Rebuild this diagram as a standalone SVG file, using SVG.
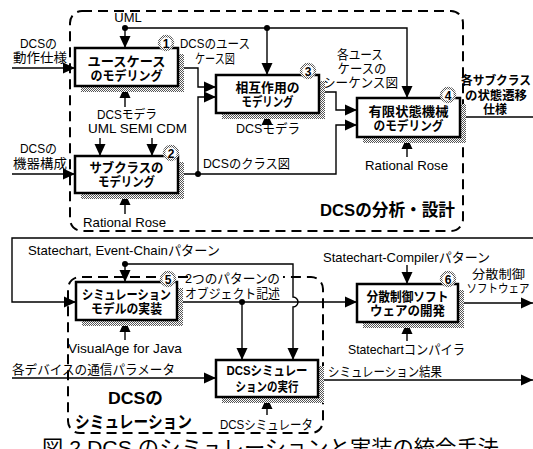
<svg xmlns="http://www.w3.org/2000/svg" width="533" height="449" viewBox="0 0 533 449">
<defs>
<pattern id="ht" width="2" height="2" patternUnits="userSpaceOnUse"><rect width="2" height="2" fill="#fff"/><rect width="1" height="1" fill="#555"/><rect x="1" y="1" width="1" height="1" fill="#555"/></pattern>
<marker id="ah" viewBox="0 0 12 12" refX="12" refY="6" markerWidth="12" markerHeight="12" markerUnits="userSpaceOnUse" orient="auto"><path d="M0,0.5 L12,6 L0,11.5 z" fill="#000"/></marker>
</defs>
<style>
text{font-family:"Liberation Sans","Noto Sans CJK JP",sans-serif;fill:#000}
.t{font-size:13px;text-anchor:middle}
.s{font-size:12px;text-anchor:middle}
.bl{font-size:12.5px;font-weight:bold;text-anchor:middle}
.nl{font-size:13px;font-weight:bold;text-anchor:middle}
.big{font-size:17px;font-weight:bold;text-anchor:middle}
.cap{font-size:21px;text-anchor:middle}
.box{fill:#fff;stroke:#000;stroke-width:2.5}
.sh{fill:url(#ht)}
.ln{fill:none;stroke:#000;stroke-width:1.4}
.ar{marker-end:url(#ah)}
.dash{fill:none;stroke:#000;stroke-width:2;stroke-dasharray:10 6}
.num circle{fill:#fff;stroke:url(#ht);stroke-width:2.5}
.num text{font-size:12px;font-weight:bold;text-anchor:middle}
.dot{fill:#000}
</style>
<rect width="533" height="449" fill="#fff"/>

<g id="regions">
<rect class="dash" x="70" y="11" width="393" height="220" rx="12"/>
<path class="dash" d="M188,277 H80 A12,12 0 0 0 68,289 V421 A12,12 0 0 0 80,433 H311 A12,12 0 0 0 323,421 V289 A12,12 0 0 0 311,277 H283"/>
</g>

<g id="connectors">
<path class="ln ar" d="M12,68 H75"/>
<path class="ln ar" d="M12,174 H75"/>
<path class="ln ar" d="M125,28 V48"/>
<path class="ln ar" d="M125,28 H407 V98"/>
<path class="ln ar" d="M267,28 V75"/>
<circle class="dot" cx="125" cy="28" r="3"/>
<circle class="dot" cx="267" cy="28" r="3"/>
<path class="ln ar" d="M125,107 V86"/>
<path class="ln ar" d="M100,138 V156"/>
<path class="ln ar" d="M152,138 V156"/>
<path class="ln ar" d="M125,214 V193"/>
<path class="ln ar" d="M178,68 H198 V87 H216"/>
<path class="ln ar" d="M178,174 H336 V125 H357"/>
<path class="ln ar" d="M198,174 V97 H216"/>
<circle class="dot" cx="198" cy="174" r="3"/>
<path class="ln ar" d="M319,92 H336 V110 H357"/>
<path class="ln ar" d="M267,124 V113"/>
<path class="ln" d="M460,117 H533"/>
<path class="ln ar" d="M407,157 V137"/>
<path class="ln ar" d="M533,238 H12 V302 H76"/>
<path class="ln ar" d="M125,264 V282"/>
<path class="ln ar" d="M125,264 H293 V297 A5,5 0 0 1 293,307 V360"/>
<circle class="dot" cx="125" cy="264" r="3"/>
<path class="ln ar" d="M177,302 H357"/>
<path class="ln ar" d="M242,302 V360"/>
<circle class="dot" cx="242" cy="302" r="3"/>
<path class="ln ar" d="M125,340 V320"/>
<path class="ln ar" d="M12,378 H216"/>
<path class="ln ar" d="M267,415 V397"/>
<path class="ln ar" d="M318,380 H533"/>
<path class="ln ar" d="M407,265 V284"/>
<path class="ln ar" d="M407,341 V322"/>
<path class="ln ar" d="M458,303 H533"/>
</g>

<g id="labels">
<text class="t" x="128" y="21.5">UML</text>
<text class="t" x="38.5" y="47.5" textLength="37" lengthAdjust="spacingAndGlyphs">DCSの</text>
<text class="t" x="40" y="61.5" textLength="54" lengthAdjust="spacingAndGlyphs">動作仕様</text>
<text class="t" x="38.5" y="152.5" textLength="37" lengthAdjust="spacingAndGlyphs">DCSの</text>
<text class="t" x="40" y="167.5" textLength="54" lengthAdjust="spacingAndGlyphs">機器構成</text>
<text class="t" x="215" y="47.5" textLength="70" lengthAdjust="spacingAndGlyphs">DCSのユース</text>
<text class="t" x="215" y="62.5" textLength="40" lengthAdjust="spacingAndGlyphs">ケース図</text>
<text class="s" x="127" y="119" textLength="60" lengthAdjust="spacingAndGlyphs">DCSモデラ</text>
<text class="t" x="137.5" y="133" textLength="99" lengthAdjust="spacingAndGlyphs">UML SEMI CDM</text>
<text class="t" x="124.5" y="226.5" textLength="83" lengthAdjust="spacingAndGlyphs">Rational Rose</text>
<text class="t" x="268" y="132.5" textLength="64" lengthAdjust="spacingAndGlyphs">DCSモデラ</text>
<text class="t" x="246.5" y="167.5" textLength="87" lengthAdjust="spacingAndGlyphs">DCSのクラス図</text>
<text class="t" x="360" y="59" textLength="46" lengthAdjust="spacingAndGlyphs">各ユース</text>
<text class="t" x="362" y="72.5" textLength="49" lengthAdjust="spacingAndGlyphs">ケースの</text>
<text class="t" x="360.5" y="86.5" textLength="75" lengthAdjust="spacingAndGlyphs">シーケンス図</text>
<text class="bl" x="496" y="84.5" textLength="70" lengthAdjust="spacingAndGlyphs">各サブクラス</text>
<text class="bl" x="496" y="99.5" textLength="62" lengthAdjust="spacingAndGlyphs">の状態遷移</text>
<text class="bl" x="495" y="113.5" textLength="24" lengthAdjust="spacingAndGlyphs">仕様</text>
<text class="t" x="406.5" y="169.5" textLength="83" lengthAdjust="spacingAndGlyphs">Rational Rose</text>
<text class="big" x="387.5" y="216" textLength="135" lengthAdjust="spacingAndGlyphs">DCSの分析・設計</text>
<text class="t" x="124" y="254.5" textLength="192" lengthAdjust="spacingAndGlyphs">Statechart, Event-Chainパターン</text>
<text class="t" x="232.5" y="282.5" textLength="95" lengthAdjust="spacingAndGlyphs">2つのパターンの</text>
<text class="t" x="232.5" y="297.5" textLength="95" lengthAdjust="spacingAndGlyphs">オブジェクト記述</text>
<text class="t" x="125" y="352.5" textLength="114" lengthAdjust="spacingAndGlyphs">VisualAge for Java</text>
<text class="t" x="93.5" y="373.5" textLength="163" lengthAdjust="spacingAndGlyphs">各デバイスの通信パラメータ</text>
<text class="big" x="135.5" y="404" textLength="55" lengthAdjust="spacingAndGlyphs">DCSの</text>
<text class="big" x="133.5" y="428" textLength="117" lengthAdjust="spacingAndGlyphs">シミュレーション</text>
<text class="t" x="266.5" y="428.5" textLength="93" lengthAdjust="spacingAndGlyphs">DCSシミュレータ</text>
<text class="t" x="385" y="375.5" textLength="114" lengthAdjust="spacingAndGlyphs">シミュレーション結果</text>
<text class="t" x="406.5" y="261.5" textLength="167" lengthAdjust="spacingAndGlyphs">Statechart-Compilerパターン</text>
<text class="t" x="406.5" y="353.5" textLength="117" lengthAdjust="spacingAndGlyphs">Statechartコンパイラ</text>
<text class="s" x="498.5" y="279" textLength="53" lengthAdjust="spacingAndGlyphs">分散制御</text>
<text class="s" x="498" y="292.5" textLength="63" lengthAdjust="spacingAndGlyphs">ソフトウェア</text>
<text class="cap" x="270.5" y="455" textLength="457" lengthAdjust="spacingAndGlyphs">図 2 DCS のシミュレーションと実装の統合手法</text>
</g>

<g id="n1">
<rect class="sh" x="81" y="54" width="103" height="38"/>
<rect class="box" x="75" y="48" width="103" height="38"/>
<text class="nl" x="126.5" y="65.5" textLength="78" lengthAdjust="spacingAndGlyphs">ユースケース</text>
<text class="nl" x="126.5" y="79.5" textLength="72" lengthAdjust="spacingAndGlyphs">のモデリング</text>
<g class="num"><circle cx="166" cy="43" r="7"/><text x="166" y="47.5">1</text></g>
</g>

<g id="n2">
<rect class="sh" x="81" y="162" width="103" height="37"/>
<rect class="box" x="75" y="156" width="103" height="37"/>
<text class="nl" x="126.5" y="171.5" textLength="74" lengthAdjust="spacingAndGlyphs">サブクラスの</text>
<text class="nl" x="126.5" y="186" textLength="57" lengthAdjust="spacingAndGlyphs">モデリング</text>
<g class="num"><circle cx="171" cy="153" r="7"/><text x="171" y="157.5">2</text></g>
</g>

<g id="n3">
<rect class="sh" x="222" y="81" width="103" height="38"/>
<rect class="box" x="216" y="75" width="103" height="38"/>
<text class="nl" x="267.5" y="91.5" textLength="64" lengthAdjust="spacingAndGlyphs">相互作用の</text>
<text class="nl" x="267.5" y="105.5" textLength="52" lengthAdjust="spacingAndGlyphs">モデリング</text>
<g class="num"><circle cx="308" cy="71" r="7"/><text x="308" y="75.5">3</text></g>
</g>

<g id="n4">
<rect class="sh" x="363" y="104" width="103" height="39"/>
<rect class="box" x="357" y="98" width="103" height="39"/>
<text class="nl" x="408.5" y="115.5" textLength="80" lengthAdjust="spacingAndGlyphs">有限状態機械</text>
<text class="nl" x="408.5" y="129.5" textLength="70" lengthAdjust="spacingAndGlyphs">のモデリング</text>
<g class="num"><circle cx="448" cy="95" r="7"/><text x="448" y="99.5">4</text></g>
</g>

<g id="n5">
<rect class="sh" x="82" y="288" width="101" height="38"/>
<rect class="box" x="76" y="282" width="101" height="38"/>
<text class="nl" x="126.5" y="298.5" textLength="89" lengthAdjust="spacingAndGlyphs">シミュレーション</text>
<text class="nl" x="126.5" y="312.5" textLength="71" lengthAdjust="spacingAndGlyphs">モデルの実装</text>
<g class="num"><circle cx="168" cy="279" r="7"/><text x="168" y="283.5">5</text></g>
</g>

<g id="n6">
<rect class="sh" x="363" y="290" width="101" height="38"/>
<rect class="box" x="357" y="284" width="101" height="38"/>
<text class="nl" x="407.5" y="300.5" textLength="82" lengthAdjust="spacingAndGlyphs">分散制御ソフト</text>
<text class="nl" x="407.5" y="314.5" textLength="75" lengthAdjust="spacingAndGlyphs">ウェアの開発</text>
<g class="num"><circle cx="448" cy="279" r="7"/><text x="448" y="283.5">6</text></g>
</g>

<g id="n7">
<rect class="sh" x="222" y="366" width="102" height="37"/>
<rect class="box" x="216" y="360" width="102" height="37"/>
<text class="nl" x="267" y="374.5" textLength="81" lengthAdjust="spacingAndGlyphs">DCSシミュレー</text>
<text class="nl" x="267" y="391" textLength="63" lengthAdjust="spacingAndGlyphs">ションの実行</text>
</g>
</svg>
